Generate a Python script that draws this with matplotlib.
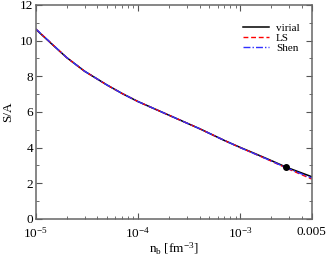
"""S/A versus baryon density: virial, LS and Shen"""

import matplotlib
matplotlib.use('Agg')
import matplotlib.pyplot as plt
from matplotlib.ticker import LogLocator, MultipleLocator, FixedLocator, NullFormatter

plt.rcParams['font.family'] = ['Liberation Serif', 'DejaVu Serif']
plt.rcParams['mathtext.fontset'] = 'custom'
plt.rcParams['mathtext.rm'] = 'Liberation Serif'
plt.rcParams['mathtext.it'] = 'Liberation Serif:italic'

# density grid [fm^-3]
n_b = [1e-5, 1.5e-5, 2e-5, 3e-5, 5e-5, 7e-5, 1e-4, 2e-4, 4e-4, 7e-4,
       1e-3, 1.4e-3, 2e-3, 2.8e-3, 5e-3]

# entropy per baryon
virial = [10.63, 9.70, 9.05, 8.28, 7.50, 7.03, 6.58, 5.82, 5.06, 4.40,
          4.01, 3.66, 3.28, 2.91, 2.37]
ls = [10.65, 9.71, 9.05, 8.28, 7.50, 7.03, 6.58, 5.82, 5.06, 4.40,
      4.00, 3.64, 3.25, 2.86, 2.24]
shen = [10.65, 9.71, 9.05, 8.28, 7.50, 7.03, 6.58, 5.82, 5.06, 4.40,
        4.00, 3.64, 3.26, 2.88, 2.30]

# marked point
dot_n = [2.83e-3]
dot_s = [2.89]

fig = plt.figure(figsize=(3.26, 2.57), dpi=100)
ax = fig.add_axes([0.110, 0.148, 0.846, 0.833])

ax.plot(n_b, virial, color='black', lw=1.1, label='virial')
ax.plot(n_b, ls, color='#ff0000', lw=1.0, ls=(0, (3.5, 2)), label='LS')
ax.plot(n_b, shen, color='#3030ff', lw=1.0, ls=(0, (5, 1.5, 1, 1.5)), label='Shen')
ax.plot(dot_n, dot_s, 'o', color='black', ms=4)

ax.set_xscale('log')
ax.set_xlim(1e-5, 5e-3)
ax.set_ylim(0, 12)

ax.xaxis.set_major_locator(FixedLocator([1e-5, 1e-4, 1e-3, 5e-3]))
ax.xaxis.set_minor_locator(LogLocator(base=10, subs=range(2, 10)))
ax.xaxis.set_minor_formatter(NullFormatter())
ax.set_xticklabels(['$10^{-5}$', '$10^{-4}$', '$10^{-3}$', '0.005'])
ax.yaxis.set_major_locator(MultipleLocator(2))
ax.yaxis.set_minor_locator(MultipleLocator(1))

ax.tick_params(which='both', direction='in', top=True, right=True,
               labelsize=9.5, color='#555555', pad=2)
ax.tick_params(axis='x', pad=5)
ax.tick_params(which='major', length=4)
ax.tick_params(which='minor', length=2)
for spine in ax.spines.values():
    spine.set_color('#666666')
    spine.set_linewidth(1.1)

ax.set_xlabel('n$_\\mathrm{b}$ [fm$^{-3}$]', fontsize=9.5, labelpad=0)
ax.set_ylabel('S/A', fontsize=9.5, labelpad=4)

ax.legend(loc='upper right', bbox_to_anchor=(0.985, 0.95), frameon=False,
          fontsize=8, handlelength=2.4, handletextpad=0.6,
          labelspacing=0.0, borderpad=0.2)

fig.savefig('out.png', dpi=100)
